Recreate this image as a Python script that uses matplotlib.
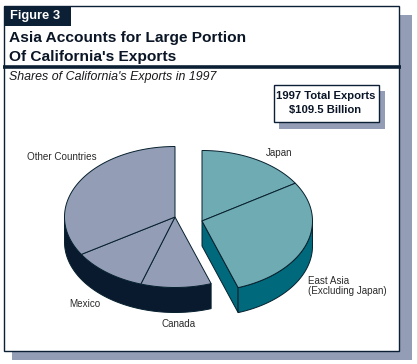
import matplotlib.pyplot as plt
import numpy as np
from matplotlib.patches import Polygon, Rectangle

plt.rcParams['font.family'] = ['Liberation Sans', 'DejaVu Sans']

# shares, percent
right_names = ['Japan', 'East Asia']
right_shares = [16.0, 28.7]
left_names = ['Canada', 'Mexico', 'Other Countries']
left_shares = [10.3, 11.1, 33.9]

TEAL_TOP = '#6fabb3'
TEAL_SIDE = '#006a7c'
GRAY_TOP = '#939db6'
GRAY_SIDE = '#0a1a2e'
NAVY = '#0b2035'
EDGE = '#06202e'
RX, RY, DEPTH = 110.5, 70.5, 25


def rim(cx, cy, a0, a1, drop=0):
    # angles clockwise from the top of the ellipse, degrees
    t = np.radians(np.linspace(a0, a1, 80))
    return np.column_stack([cx + RX * np.sin(t), cy - RY * np.cos(t) + drop])


def draw_slices(ax, cx, cy, start, shares, top, side):
    edges = start + np.cumsum([0] + list(shares)) * 3.6
    # outer wall, only the part that faces the viewer
    a0 = max(edges[0], 90)
    a1 = min(edges[-1], 270)
    wall = np.vstack([rim(cx, cy, a0, a1), rim(cx, cy, a1, a0, DEPTH)])
    ax.add_patch(Polygon(wall, fc=side, ec=EDGE, lw=0.7, zorder=2))
    for a, b in zip(edges[:-1], edges[1:]):
        pts = np.vstack([[cx, cy], rim(cx, cy, a, b)])
        ax.add_patch(Polygon(pts, fc=top, ec=EDGE, lw=0.7, zorder=3))
    return edges


fig = plt.figure(figsize=(4.18, 3.64), dpi=100)
ax = fig.add_axes([0, 0, 1, 1])
ax.set_xlim(0, 418)
ax.set_ylim(364, 0)
ax.axis('off')

# frame with shadow
ax.add_patch(Rectangle((12, 15), 400, 344.5, fc=GRAY_TOP, ec='none', zorder=0))
ax.add_patch(Rectangle((3.5, 5.5), 395.5, 345, fc='white', ec=NAVY, lw=1.0, zorder=1))
ax.plot([417.5, 417.5], [0, 364], color='#a83a3a', lw=1, zorder=1)

# header
ax.add_patch(Rectangle((3.5, 5.5), 67.5, 20.5, fc=NAVY, ec='none', zorder=2))
ax.text(10, 16, 'Figure 3', color='white', fontsize=9.3, fontweight='bold', va='center', zorder=3)
ax.text(9, 38, 'Asia Accounts for Large Portion', color='#0a1526', fontsize=11.15, fontweight='bold', va='center', zorder=3)
ax.text(9, 57, "Of California's Exports", color='#0a1526', fontsize=11.15, fontweight='bold', va='center', zorder=3)
ax.plot([3, 401], [66.5, 66.5], color=NAVY, lw=2.6, zorder=3, solid_capstyle='butt')
ax.text(9, 77, "Shares of California's Exports in 1997", color='#1a1a1a', fontsize=8.9, style='italic', va='center', zorder=3)

# total box
ax.add_patch(Rectangle((279, 91), 106, 38, fc=GRAY_TOP, ec='none', zorder=2))
ax.add_patch(Rectangle((273.5, 84.5), 105, 37, fc='white', ec=NAVY, lw=1.0, zorder=3))
ax.text(325.5, 96, '1997 Total Exports', color='#0a1526', fontsize=8.1, fontweight='bold', ha='center', va='center', zorder=4)
ax.text(325.5, 110, '$109.5 Billion', color='#0a1526', fontsize=8.1, fontweight='bold', ha='center', va='center', zorder=4)

# left group runs from Canada round to the top
left_start = 360 - sum(left_shares) * 3.6
draw_slices(ax, 175, 217, left_start, left_shares, GRAY_TOP, GRAY_SIDE)

# right group, its cut face shows at the front
cx, cy = 202, 221
end = sum(right_shares) * 3.6
p = rim(cx, cy, end, end)[0]
ax.add_patch(Polygon([[cx, cy], p, p + [0, DEPTH], [cx, cy + DEPTH]], fc=TEAL_SIDE, ec=EDGE, lw=0.7, zorder=2))
draw_slices(ax, cx, cy, 0, right_shares, TEAL_TOP, TEAL_SIDE)

# labels
label_style = dict(color='#2a2a2a', fontsize=7.15, va='center', zorder=4)
ax.text(27, 157, 'Other Countries', **label_style)
ax.text(266, 153, 'Japan', **label_style)
ax.text(308, 281, 'East Asia', **label_style)
ax.text(308, 291, '(Excluding Japan)', **label_style)
ax.text(69, 304, 'Mexico', **label_style)
ax.text(162, 324, 'Canada', **label_style)

fig.savefig('out.png', dpi=100)
